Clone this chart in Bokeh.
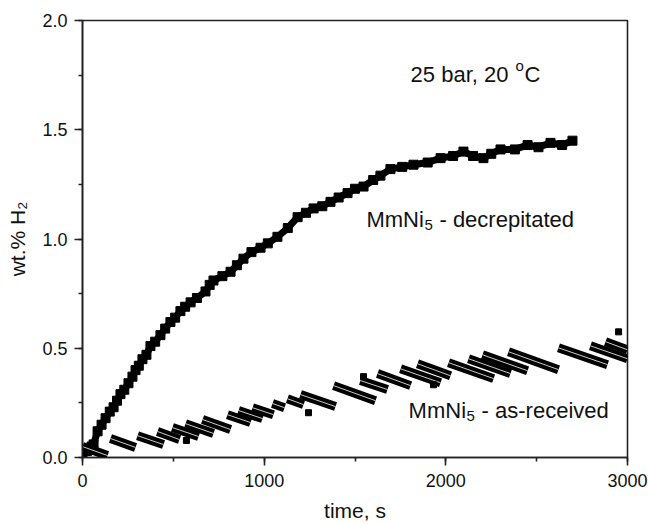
from bokeh.plotting import figure
from bokeh.models import Range1d, SingleIntervalTicker, NumeralTickFormatter
from bokeh.core.properties import value
from bokeh.embed import file_html
from bokeh.resources import INLINE

# --- MmNi5 decrepitated (time s, wt.% H2)
dec_t = [0, 25, 50, 61, 83, 105, 127, 150, 171, 190, 209, 230, 253, 275, 292, 310, 330, 352,
         374, 400, 429, 455, 484, 510, 539, 565, 595, 630, 677, 700, 721, 770, 815, 850, 886,
         930, 980, 1020, 1073, 1130, 1184, 1230, 1272, 1320, 1365, 1410, 1459, 1500, 1547,
         1600, 1640, 1695, 1760, 1822, 1900, 1971, 2040, 2097, 2150, 2207, 2250, 2301, 2380,
         2450, 2510, 2576, 2640, 2697]
dec_w = [0.02, 0.03, 0.05, 0.06, 0.12, 0.15, 0.18, 0.21, 0.23, 0.26, 0.29, 0.31, 0.34, 0.37,
         0.40, 0.42, 0.45, 0.47, 0.51, 0.53, 0.56, 0.59, 0.62, 0.64, 0.67, 0.69, 0.71, 0.73,
         0.76, 0.79, 0.81, 0.83, 0.85, 0.88, 0.91, 0.94, 0.96, 0.98, 1.01, 1.05, 1.10, 1.12,
         1.14, 1.15, 1.17, 1.19, 1.21, 1.23, 1.24, 1.27, 1.29, 1.32, 1.33, 1.34, 1.35, 1.37,
         1.38, 1.40, 1.38, 1.37, 1.39, 1.41, 1.41, 1.43, 1.42, 1.44, 1.43, 1.45]

# --- MmNi5 as-received: streaks of points (start/end time, start/end wt.%)
ar_t0 = [0, 154, 303, 413, 495, 567, 661, 798, 859, 936, 1046, 1128, 1200, 1382, 1530, 1624,
         1751, 1844, 2015, 2125, 2202, 2345, 2620, 2796, 2879]
ar_t1 = [138, 292, 446, 534, 639, 721, 815, 925, 991, 1051, 1112, 1217, 1393, 1613, 1679, 1806,
         1971, 2026, 2263, 2356, 2450, 2620, 2890, 3000, 3000]
ar_w0 = [0.050, 0.087, 0.100, 0.119, 0.137, 0.155, 0.174, 0.196, 0.215, 0.228, 0.247, 0.269,
         0.288, 0.329, 0.352, 0.384, 0.406, 0.429, 0.434, 0.452, 0.470, 0.484, 0.502, 0.511, 0.530]
ar_w1 = [0.009, 0.046, 0.059, 0.082, 0.096, 0.110, 0.128, 0.160, 0.178, 0.196, 0.228, 0.242,
         0.233, 0.260, 0.311, 0.329, 0.342, 0.374, 0.361, 0.384, 0.397, 0.402, 0.425, 0.452, 0.493]
ar_dot_t = [572, 1244, 1547, 1932, 2951]
ar_dot_w = [0.078, 0.205, 0.370, 0.333, 0.575]

FONT = "Liberation Sans"

p = figure(width=648, height=524, output_backend="svg", toolbar_location=None,
           x_range=Range1d(0, 3000), y_range=Range1d(0, 2.0),
           min_border_left=82, min_border_right=21, min_border_top=20, min_border_bottom=66)
p.grid.visible = False
p.outline_line_color = "#222222"
p.outline_line_width = 1.6

for ax in (p.xaxis[0], p.yaxis[0]):
    ax.axis_line_width = 1.6
    ax.axis_line_color = "#222222"
    ax.major_tick_line_color = "#222222"
    ax.minor_tick_line_color = "#222222"
    ax.major_tick_line_width = 1.6
    ax.minor_tick_line_width = 1.6
    ax.major_tick_out = 8
    ax.major_tick_in = 0
    ax.minor_tick_out = 4
    ax.minor_tick_in = 0
    ax.major_label_text_font = FONT
    ax.major_label_text_font_size = "18px"
    ax.major_label_text_color = "#111111"
    ax.axis_label_text_font = FONT
    ax.axis_label_text_font_size = "21px"
    ax.axis_label_text_font_style = "normal"
    ax.axis_label_text_color = "#111111"

p.xaxis.ticker = SingleIntervalTicker(interval=1000, num_minor_ticks=2)
p.yaxis.ticker = SingleIntervalTicker(interval=0.5, num_minor_ticks=2)
p.yaxis.formatter = NumeralTickFormatter(format="0.0")
p.xaxis.major_label_standoff = 8
p.yaxis.major_label_standoff = 7
p.xaxis.axis_label = "time, s"
p.yaxis.axis_label = "wt.% H\u2082"
p.xaxis.axis_label_standoff = 9
p.yaxis.axis_label_standoff = 10

# decrepitated
p.line(dec_t, dec_w, line_width=7, line_color="black")
p.scatter(dec_t, dec_w, marker="square", size=9, color="black")

# as-received (double rows of points, thin white gap between them)
p.segment(x0=ar_t0, y0=ar_w0, x1=ar_t1, y1=ar_w1, line_width=9, line_color="black",
          line_cap="butt")
p.segment(x0=ar_t0, y0=ar_w0, x1=ar_t1, y1=ar_w1, line_width=0.8, line_color="white",
          line_cap="butt")
p.scatter(ar_dot_t, ar_dot_w, marker="square", size=6, color="black")

# annotations
def txt(x, y, s, size, dx=0, dy=0):
    p.text(x=[x], y=[y], text=[s], text_font=value(FONT), text_font_size=size,
           text_color="#111111", text_baseline="alphabetic", text_align="left",
           x_offset=dx, y_offset=dy)

txt(1806, 1.753, "25 bar, 20", "22px")
txt(1806, 1.753, "o", "15px", dx=105, dy=-9)
txt(1806, 1.753, "C", "22px", dx=114)

txt(1563, 1.087, "MmNi", "22px")
txt(1563, 1.087, "5", "15px", dx=58, dy=5)
txt(1563, 1.087, "- decrepitated", "22px", dx=73)

txt(1795, 0.215, "MmNi", "22px")
txt(1795, 0.215, "5", "15px", dx=58, dy=5)
txt(1795, 0.215, "- as-received", "22px", dx=73)

open("out.html", "w").write(file_html(p, INLINE))
